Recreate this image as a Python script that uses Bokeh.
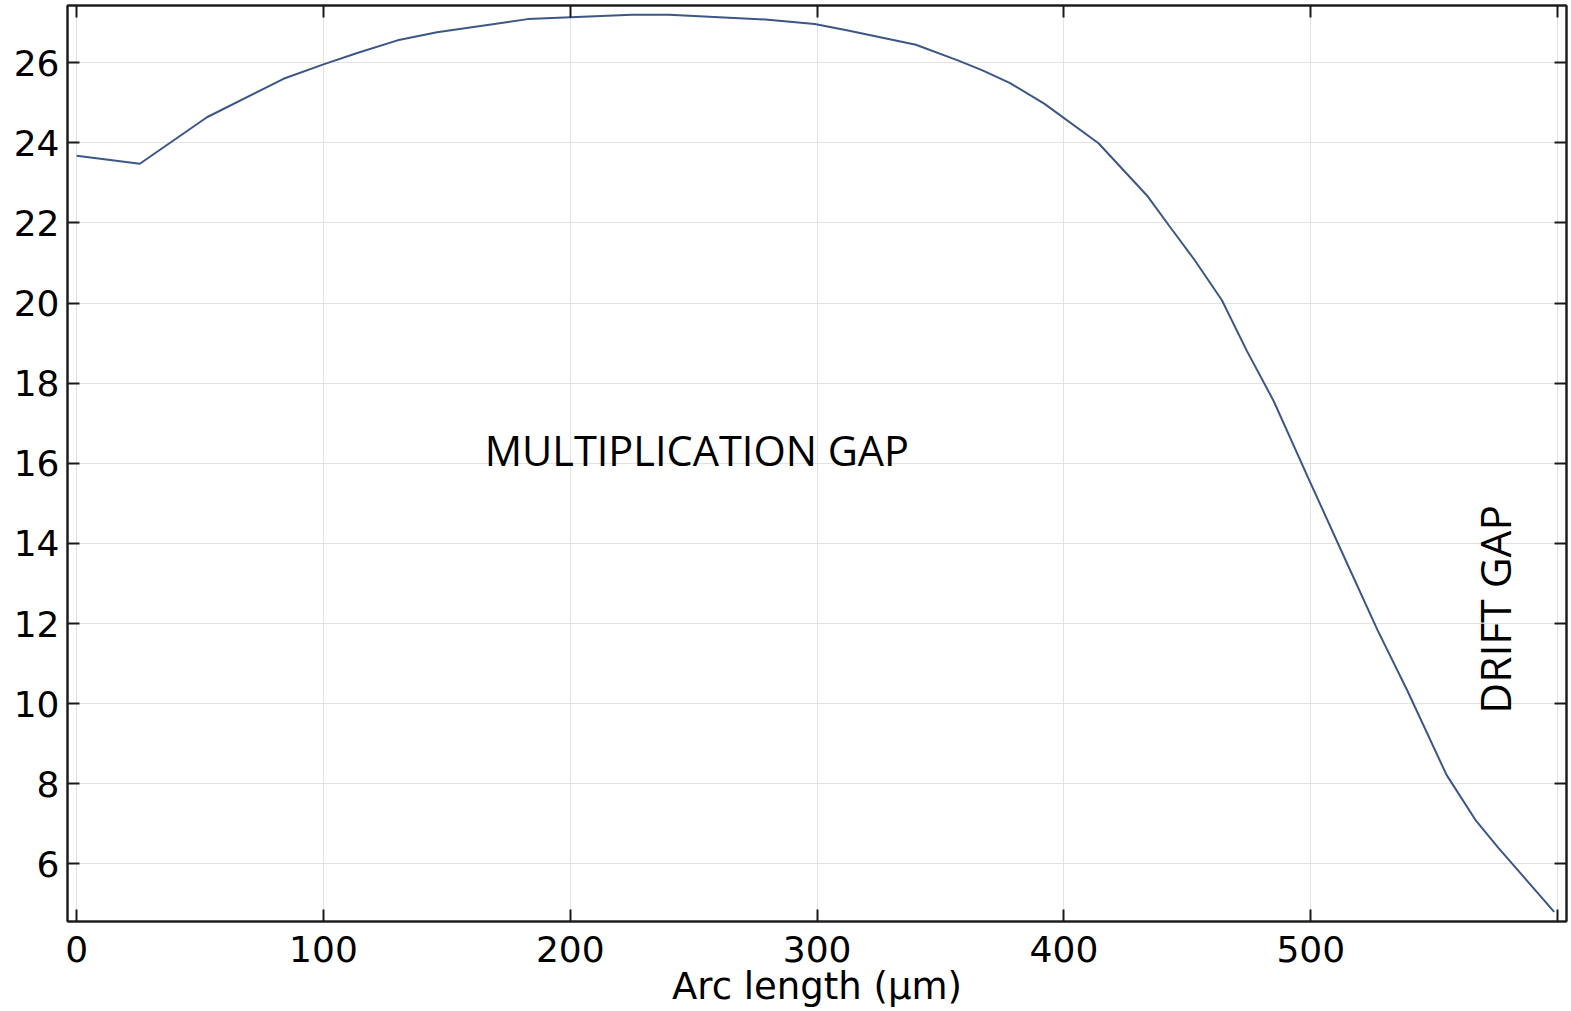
from bokeh.plotting import figure
from bokeh.models import LinearAxis, FixedTicker, Range1d, Label
from bokeh.embed import file_html
from bokeh.resources import INLINE
import math

# Data
arc_length = [0, 25.6, 52.8, 83.8, 100, 114, 130, 146, 182.7, 225, 240, 279, 299,
              313, 340, 357, 367, 378, 392, 414, 434, 443, 453, 464, 474, 485,
              499, 515, 527, 539, 555, 567, 576, 598.6]
field = [23.68, 23.48, 24.64, 25.6, 25.96, 26.25, 26.56, 26.76, 27.09, 27.2, 27.2,
         27.08, 26.97, 26.8, 26.45, 26.06, 25.81, 25.5, 24.98, 23.99, 22.66, 21.9,
         21.07, 20.07, 18.82, 17.55, 15.63, 13.46, 11.84, 10.34, 8.22, 7.07, 6.4, 4.80]
x_ticks = [0, 100, 200, 300, 400, 500, 600]
y_ticks = [6, 8, 10, 12, 14, 16, 18, 20, 22, 24, 26]
x_label = "Arc length (µm)"
region_labels = ["MULTIPLICATION GAP", "DRIFT GAP"]

LINE_COLOR = "#3b5687"
GRID_COLOR = "#e2e2e2"
AXIS_COLOR = "#1a1a1a"

p = figure(width=1571, height=1011, output_backend="svg", toolbar_location=None,
           x_range=Range1d(-3.7, 603.6), y_range=Range1d(4.56, 27.43),
           x_axis_location=None, y_axis_location=None,
           min_border_left=67, min_border_right=5, min_border_top=5, min_border_bottom=90)
p.background_fill_color = "white"
p.border_fill_color = "white"
p.outline_line_color = "#333333"
p.outline_line_width = 2

def style_axis(ax, labels=True):
    ax.axis_line_color = AXIS_COLOR
    ax.axis_line_width = 2
    ax.major_tick_line_color = AXIS_COLOR
    ax.major_tick_line_width = 2
    ax.major_tick_in = 12
    ax.major_tick_out = 0
    ax.minor_tick_line_color = None
    if labels:
        ax.major_label_text_font = "DejaVu Sans"
        ax.major_label_text_font_size = "36px"
        ax.major_label_text_color = "black"
    else:
        ax.major_label_overrides = {t: "" for t in ax.ticker.ticks}
        ax.major_label_text_font_size = "1px"
        ax.major_label_standoff = 0

xb = LinearAxis(ticker=FixedTicker(ticks=x_ticks))
style_axis(xb)
xb.major_label_overrides = {600: ""}
xb.major_label_standoff = 14
xb.axis_label = x_label
xb.axis_label_text_font = "DejaVu Sans"
xb.axis_label_text_font_size = "37px"
xb.axis_label_text_font_style = "normal"
xb.axis_label_text_color = "black"
xb.axis_label_standoff = 0
p.add_layout(xb, "below")

xt = LinearAxis(ticker=FixedTicker(ticks=x_ticks))
style_axis(xt, labels=False)
p.add_layout(xt, "above")

yl = LinearAxis(ticker=FixedTicker(ticks=y_ticks))
style_axis(yl)
yl.major_label_standoff = 8
p.add_layout(yl, "left")

yr = LinearAxis(ticker=FixedTicker(ticks=y_ticks))
style_axis(yr, labels=False)
p.add_layout(yr, "right")

p.xgrid.ticker = FixedTicker(ticks=x_ticks)
p.ygrid.ticker = FixedTicker(ticks=y_ticks)
p.xgrid.grid_line_color = GRID_COLOR
p.ygrid.grid_line_color = GRID_COLOR
p.xgrid.grid_line_width = 1
p.ygrid.grid_line_width = 1

p.line(arc_length, field, line_color=LINE_COLOR, line_width=2)

p.add_layout(Label(x=165.3, y=16.33, text=region_labels[0], text_font="Open Sans",
                   text_font_size="41.5px", text_color="black",
                   text_align="left", text_baseline="alphabetic"))
p.add_layout(Label(x=574.3, y=9.75, text=region_labels[1], text_font="Open Sans",
                   text_font_size="42.5px", text_color="black", angle=math.pi / 2,
                   text_align="left", text_baseline="alphabetic"))

open("out.html", "w").write(file_html(p, INLINE))
